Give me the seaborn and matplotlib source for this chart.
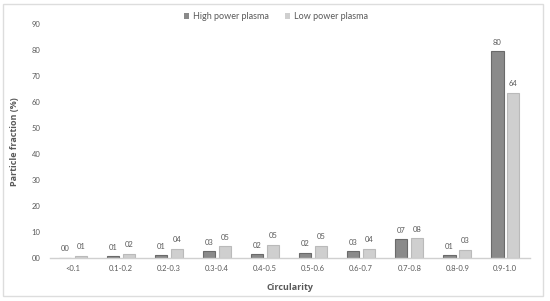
import seaborn as sns
import matplotlib.pyplot as plt
import pandas as pd
from matplotlib.patches import Rectangle

# circularity bins and particle fractions (%)
categories = ["<0.1", "0.1-0.2", "0.2-0.3", "0.3-0.4", "0.4-0.5",
              "0.5-0.6", "0.6-0.7", "0.7-0.8", "0.8-0.9", "0.9-1.0"]
high_power = [0.2, 0.8, 1.2, 2.6, 1.6, 2.1, 2.6, 7.3, 1.2, 79.6]
low_power = [0.9, 1.8, 3.7, 4.6, 5.1, 4.8, 3.6, 7.7, 3.2, 63.6]
series_names = ["High power plasma", "Low power plasma"]
y_ticks = [0, 10, 20, 30, 40, 50, 60, 70, 80, 90]

df = pd.DataFrame({
    "Circularity": categories * 2,
    "Fraction": high_power + low_power,
    "Series": [series_names[0]] * len(categories) + [series_names[1]] * len(categories),
})

plt.rcParams["font.family"] = ["Lato", "DejaVu Sans"]
text_col = "#595959"

fig = plt.figure(figsize=(5.5, 3.01), dpi=100)
ax = fig.add_axes([0.091, 0.142, 0.873, 0.778])

sns.barplot(data=df, x="Circularity", y="Fraction", hue="Series",
            palette=["#8a8a8a", "#cfcfcf"], width=0.65, gap=0.22,
            order=categories, hue_order=series_names, ax=ax)

edge_cols = ["#6a6a6a", "#bababa"]
for i, cont in enumerate(ax.containers):
    for bar in cont:
        bar.set_edgecolor(edge_cols[i])
        bar.set_linewidth(0.8)
    ax.bar_label(cont, labels=["%02d" % round(v) for v in cont.datavalues],
                 padding=4, fontsize=5.5, color=text_col)

ax.set_ylim(0, 90)
ax.set_xlim(-0.48, 9.52)
ax.set_yticks(y_ticks)
ax.set_yticklabels(["%02d" % t for t in y_ticks])
ax.tick_params(axis="both", length=0, labelsize=5.5, labelcolor=text_col)
ax.tick_params(axis="y", pad=7)
ax.tick_params(axis="x", pad=5)

for s in ["top", "right", "left"]:
    ax.spines[s].set_visible(False)
ax.spines["bottom"].set_color("#d0d0d0")
ax.spines["bottom"].set_linewidth(1.0)

ax.set_xlabel("Circularity", fontsize=6.5, fontweight="bold", color=text_col,
              labelpad=8, family=["Open Sans", "DejaVu Sans"])
ax.set_ylabel("Particle fraction (%)", fontsize=6.5, fontweight="bold", color=text_col,
              labelpad=9, family=["Open Sans", "DejaVu Sans"])

leg = ax.legend(loc="upper center", bbox_to_anchor=(0.47, 1.085), ncol=2,
                frameon=False, fontsize=6.5, handlelength=0.6, handleheight=0.6,
                handletextpad=0.4, columnspacing=1.8)
for t in leg.get_texts():
    t.set_color(text_col)

# light frame around the figure
fig.patches.append(Rectangle((0.006, 0.018), 0.982, 0.97, transform=fig.transFigure,
                             fill=False, edgecolor="#dddddd", linewidth=1.0))

fig.savefig("out.png", dpi=100)
